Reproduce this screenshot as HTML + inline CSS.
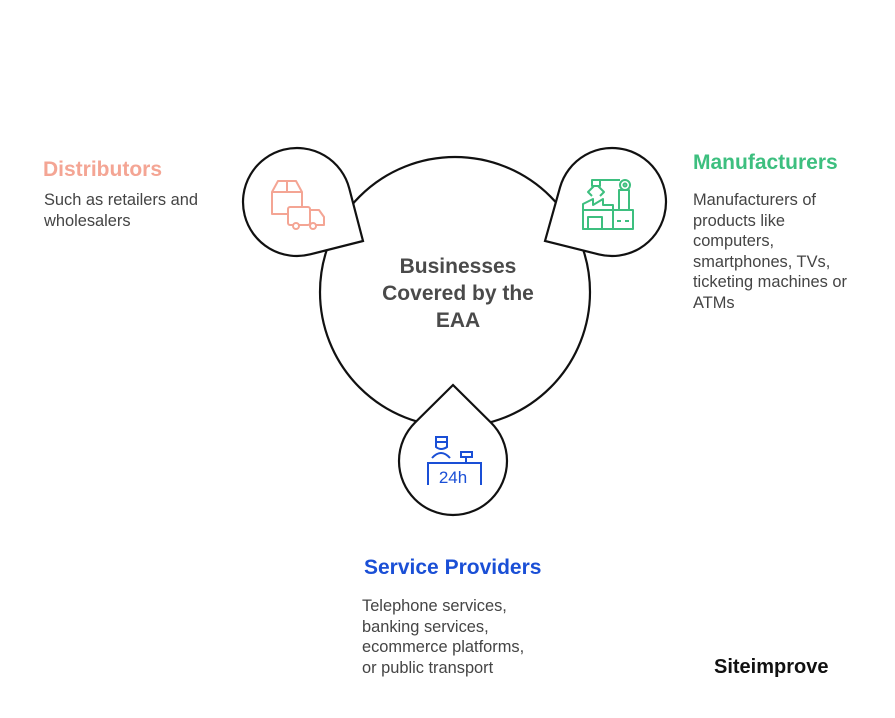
<!DOCTYPE html>
<html><head><meta charset="utf-8"><style>
body{margin:0;width:895px;height:718px;background:#fff;position:relative;overflow:hidden;font-family:"Liberation Sans",sans-serif}
.t{position:absolute;font-weight:bold;font-size:21px}
.d{position:absolute;font-size:16.4px;color:#444;line-height:20.5px}
</style></head><body>
<svg id="s" width="895" height="718" style="position:absolute;left:0;top:0">
<circle cx="455" cy="292" r="135" fill="#fff" stroke="#111" stroke-width="2.2"/>
<g id="drops"></g>
<text x="458" y="273" text-anchor="middle" font-family="Liberation Sans" font-weight="bold" font-size="21" fill="#4a4a4a">Businesses</text>
<text x="458" y="300" text-anchor="middle" font-family="Liberation Sans" font-weight="bold" font-size="21" fill="#4a4a4a">Covered by the</text>
<text x="458" y="327" text-anchor="middle" font-family="Liberation Sans" font-weight="bold" font-size="21" fill="#4a4a4a">EAA</text>
<g fill="none" stroke="#f4a594" stroke-width="2" stroke-linejoin="round">
<path d="M272 213 V192 L278 181 H296 L302 192 V206 M272 192 H302 M287 181 V192"/>
<path d="M272 213 V214 H288"/>
<rect x="288" y="207" width="22" height="18" rx="2"/>
<path d="M310 210 H319 L324 217 V225 H310"/>
<circle cx="296" cy="226" r="3" fill="#fff"/><circle cx="313" cy="226" r="3" fill="#fff"/>
</g>
<g fill="none" stroke="#3dbf7f" stroke-width="2" stroke-linejoin="round">
<path d="M583 229 V204 L593 199 V205 L603 199 V205 L613 205 V229 Z"/>
<rect x="583" y="210" width="50" height="19"/>
<path d="M588 229 V217 H602 V229"/>
<path d="M617 221 H621 M625 221 H629"/>
<rect x="619" y="190" width="10" height="20"/>
<circle cx="625" cy="185" r="5"/><circle cx="625" cy="185" r="1.5"/>
<path d="M596 180 H620 M592 180 H600 V186 H592 Z M594 186 L588 192 L592 196 M598 186 L604 192 L600 196"/>
</g>
<g fill="none" stroke="#1a4fd6" stroke-width="2">
<path d="M436 437 H447 V447 Q441 451 436 447 Z M436 442 H447"/>
<path d="M432 458 Q441 448 450 458"/>
<rect x="461" y="452" width="11" height="5"/><path d="M466 457 V462"/>
<path d="M428 485 V463 H481 V485"/>
</g>
<text x="453" y="483" text-anchor="middle" font-family="Liberation Sans" font-size="17" fill="#1a4fd6">24h</text>
</svg>
<div class="t" style="left:43px;top:158px;color:#f4a594">Distributors</div>
<div class="d" style="left:44px;top:190px">Such as retailers and<br>wholesalers</div>
<div class="t" style="left:693px;top:151px;color:#3dbf7f">Manufacturers</div>
<div class="d" style="left:693px;top:190px">Manufacturers of<br>products like<br>computers,<br>smartphones, TVs,<br>ticketing machines or<br>ATMs</div>
<div class="t" style="left:364px;top:556px;color:#1a4fd6">Service Providers</div>
<div class="d" style="left:362px;top:596px">Telephone services,<br>banking services,<br>ecommerce platforms,<br>or public transport</div>
<div style="position:absolute;left:714px;top:656px;font-weight:bold;font-size:20px;color:#111">Siteimprove</div>
<script>
function drop(cx,cy,r,tx,ty){
 var dx=tx-cx,dy=ty-cy,d=Math.hypot(dx,dy),phi=Math.atan2(dy,dx),th=Math.acos(r/d);
 var p1=[cx+r*Math.cos(phi+th),cy+r*Math.sin(phi+th)],p2=[cx+r*Math.cos(phi-th),cy+r*Math.sin(phi-th)];
 return '<path d="M'+tx+' '+ty+' L'+p1[0]+' '+p1[1]+' A'+r+' '+r+' 0 1 1 '+p2[0]+' '+p2[1]+' Z" fill="#fff" stroke="#111" stroke-width="2.2" stroke-linejoin="miter"/>';
}
document.getElementById('drops').innerHTML=drop(297,202,54,363,241)+drop(612,202,54,545,241)+drop(453,461,54,453,385);
</script>
</body></html>
